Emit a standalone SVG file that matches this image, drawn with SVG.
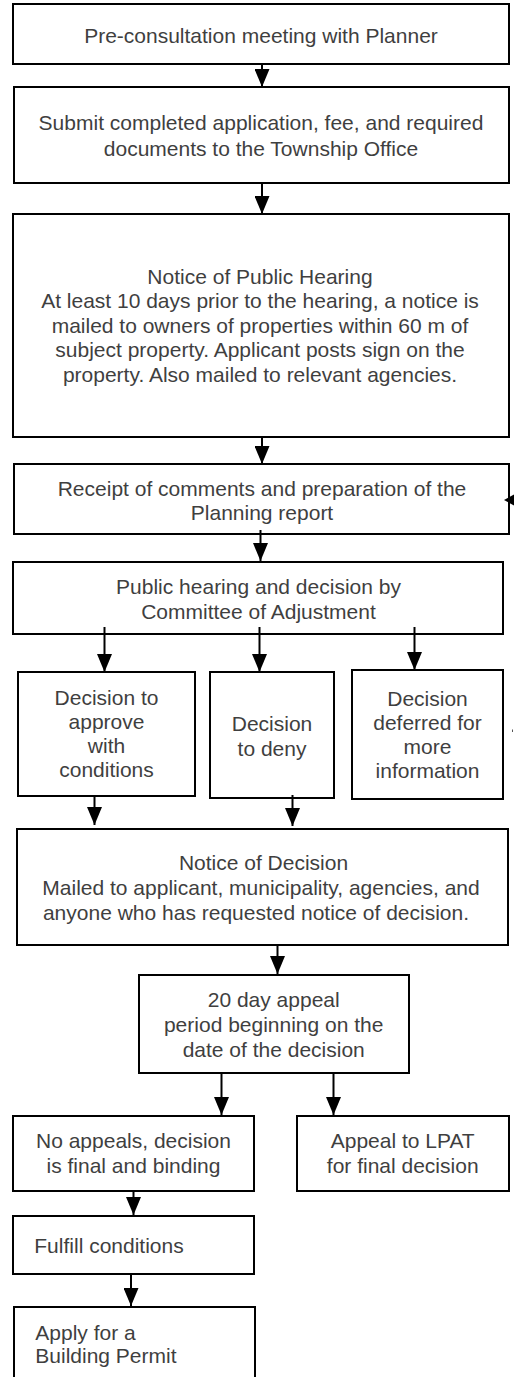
<svg xmlns="http://www.w3.org/2000/svg" width="514" height="1377" viewBox="0 0 514 1377">
  <style>
    .box { fill: #ffffff; stroke: #000000; stroke-width: 2; }
    .t { font-family: "Liberation Sans", Arial, sans-serif; font-size: 21px; fill: #3f3f3f; text-anchor: middle; }
    .tl { font-family: "Liberation Sans", Arial, sans-serif; font-size: 21px; fill: #3f3f3f; text-anchor: start; }
    .conn { stroke: #000000; stroke-width: 2; fill: none; }
  </style>
  <defs>
    <marker id="ah" viewBox="0 0 18 15" refX="18" refY="7.5" markerWidth="18" markerHeight="15" markerUnits="userSpaceOnUse" orient="auto">
      <path d="M0,0 L18,7.5 L0,15 Z" fill="#000000"/>
    </marker>
  </defs>
  <rect width="514" height="1377" fill="#ffffff"/>

  <g id="n1">
    <rect class="box" x="13" y="4" width="496" height="60"/>
    <text class="t" x="261" y="43">Pre-consultation meeting with Planner</text>
  </g>
  <g id="n2">
    <rect class="box" x="14" y="87" width="495" height="96"/>
    <text class="t" x="261" y="130">Submit completed application, fee, and required</text>
    <text class="t" x="261" y="156">documents to the Township Office</text>
  </g>
  <g id="n3">
    <rect class="box" x="13" y="214" width="496" height="223"/>
    <text class="t" x="260" y="283.5">Notice of Public Hearing</text>
    <text class="t" x="260" y="308">At least 10 days prior to the hearing, a notice is</text>
    <text class="t" x="260" y="332.5">mailed to owners of properties within 60 m of</text>
    <text class="t" x="260" y="357">subject property. Applicant posts sign on the</text>
    <text class="t" x="260" y="381.5">property. Also mailed to relevant agencies.</text>
  </g>
  <g id="n4">
    <rect class="box" x="14" y="464" width="495" height="70"/>
    <text class="t" x="262" y="495.5">Receipt of comments and preparation of the</text>
    <text class="t" x="262" y="519.5">Planning report</text>
  </g>
  <g id="n5">
    <rect class="box" x="13" y="562" width="490" height="72"/>
    <text class="t" x="258.5" y="594">Public hearing and decision by</text>
    <text class="t" x="258.5" y="619">Committee of Adjustment</text>
  </g>
  <g id="n6a">
    <rect class="box" x="18" y="672" width="177" height="124"/>
    <text class="t" x="106.5" y="704.5">Decision to</text>
    <text class="t" x="106.5" y="729">approve</text>
    <text class="t" x="106.5" y="753">with</text>
    <text class="t" x="106.5" y="777">conditions</text>
  </g>
  <g id="n6b">
    <rect class="box" x="210" y="672" width="124" height="126"/>
    <text class="t" x="272" y="730.5">Decision</text>
    <text class="t" x="272" y="755.5">to deny</text>
  </g>
  <g id="n6c">
    <rect class="box" x="352" y="670" width="151" height="129"/>
    <text class="t" x="427.5" y="705.5">Decision</text>
    <text class="t" x="427.5" y="730">deferred for</text>
    <text class="t" x="427.5" y="754">more</text>
    <text class="t" x="427.5" y="778">information</text>
  </g>
  <g id="n7">
    <rect class="box" x="17" y="829" width="491" height="116"/>
    <text class="t" x="263.5" y="870">Notice of Decision</text>
    <text class="t" x="261" y="895">Mailed to applicant, municipality, agencies, and</text>
    <text class="t" x="256" y="920">anyone who has requested notice of decision.</text>
  </g>
  <g id="n8">
    <rect class="box" x="139" y="975" width="270" height="98"/>
    <text class="t" x="273.7" y="1007">20 day appeal</text>
    <text class="t" x="273.7" y="1032">period beginning on the</text>
    <text class="t" x="273.7" y="1056.5">date of the decision</text>
  </g>
  <g id="n9a">
    <rect class="box" x="13" y="1116" width="241" height="75"/>
    <text class="t" x="133.5" y="1148">No appeals, decision</text>
    <text class="t" x="133.5" y="1173">is final and binding</text>
  </g>
  <g id="n9b">
    <rect class="box" x="297" y="1116" width="212" height="75"/>
    <text class="t" x="402.7" y="1148">Appeal to LPAT</text>
    <text class="t" x="402.7" y="1173">for final decision</text>
  </g>
  <g id="n10">
    <rect class="box" x="13" y="1216" width="241" height="58"/>
    <text class="tl" x="34.3" y="1253">Fulfill conditions</text>
  </g>
  <g id="n11">
    <rect class="box" x="14" y="1307" width="241" height="90"/>
    <text class="tl" x="35.3" y="1339.5">Apply for a</text>
    <text class="tl" x="35.3" y="1363">Building Permit</text>
  </g>

  <g id="connectors">
    <line class="conn" x1="262" y1="64" x2="262" y2="87" marker-end="url(#ah)"/>
    <line class="conn" x1="262" y1="183" x2="262" y2="214" marker-end="url(#ah)"/>
    <line class="conn" x1="262" y1="437" x2="262" y2="464" marker-end="url(#ah)"/>
    <line class="conn" x1="260.5" y1="530" x2="260.5" y2="561" marker-end="url(#ah)"/>
    <line class="conn" x1="104.5" y1="627" x2="104.5" y2="672" marker-end="url(#ah)"/>
    <line class="conn" x1="259.5" y1="627" x2="259.5" y2="672" marker-end="url(#ah)"/>
    <line class="conn" x1="414.5" y1="627" x2="414.5" y2="670" marker-end="url(#ah)"/>
    <line class="conn" x1="94.5" y1="796" x2="94.5" y2="825" marker-end="url(#ah)"/>
    <line class="conn" x1="292.5" y1="795" x2="292.5" y2="826" marker-end="url(#ah)"/>
    <line class="conn" x1="277.5" y1="945" x2="277.5" y2="974" marker-end="url(#ah)"/>
    <line class="conn" x1="221.5" y1="1073" x2="221.5" y2="1115" marker-end="url(#ah)"/>
    <line class="conn" x1="333.5" y1="1073" x2="333.5" y2="1115" marker-end="url(#ah)"/>
    <line class="conn" x1="133.5" y1="1191" x2="133.5" y2="1215" marker-end="url(#ah)"/>
    <line class="conn" x1="131" y1="1274" x2="131" y2="1306" marker-end="url(#ah)"/>
    <path d="M504,500 L514,494.5 L514,505.5 Z" fill="#000000"/>
    <line x1="512.5" y1="729.5" x2="512.5" y2="732" stroke="#555555" stroke-width="1"/>
  </g>
</svg>
